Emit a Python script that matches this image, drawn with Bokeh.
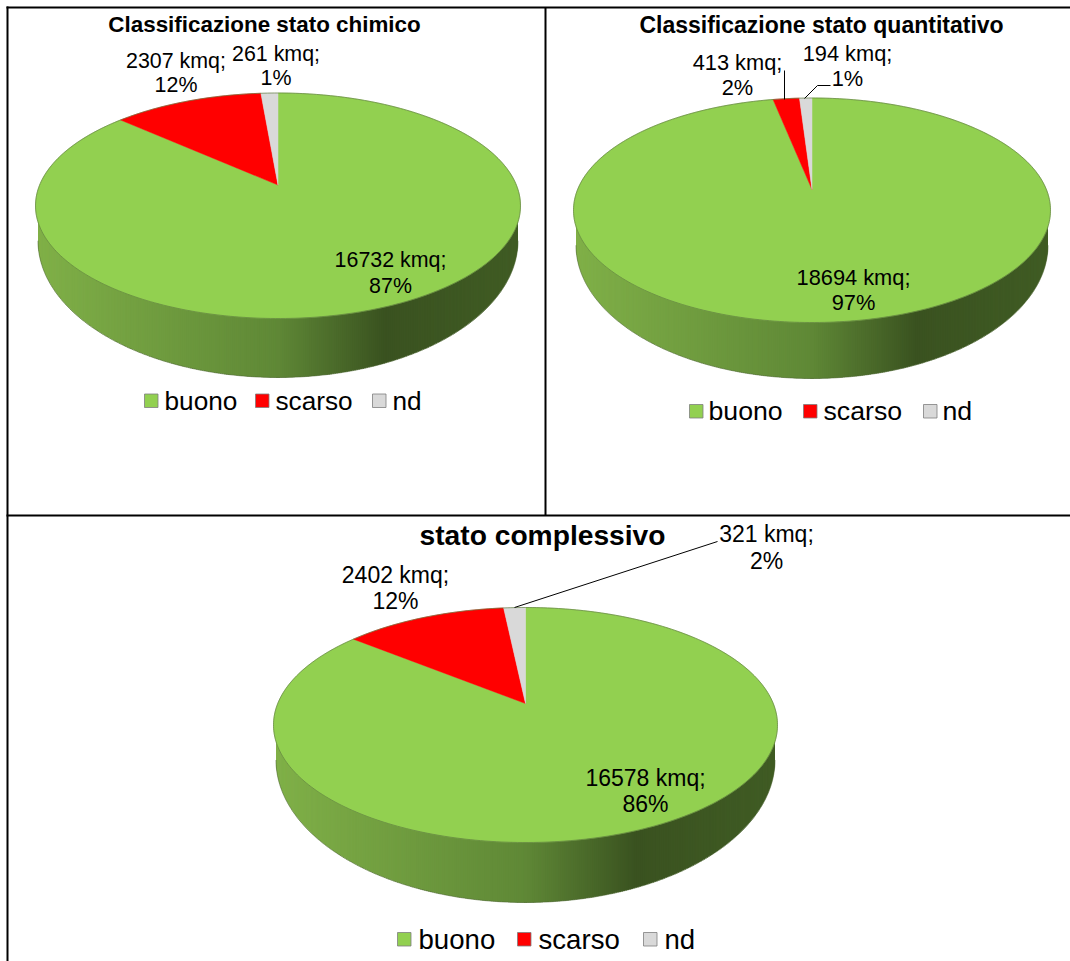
import numpy as np
from bokeh.embed import file_html
from bokeh.resources import INLINE
from bokeh.plotting import figure
from bokeh.models import Range1d
from bokeh.core.properties import value

# ---- data ----
categories = ["buono", "scarso", "nd"]
titles = ["Classificazione stato chimico", "Classificazione stato quantitativo", "stato complessivo"]
chimico_kmq = [16732, 2307, 261]
chimico_pct = [87, 12, 1]
quantitativo_kmq = [18694, 413, 194]
quantitativo_pct = [97, 2, 1]
complessivo_kmq = [16578, 2402, 321]
complessivo_pct = [86, 12, 2]

# ---- style ----
COLORS = ["#92D050", "#FF0000", "#D9D9D9"]
FONT = value("Liberation Sans")
W, H = 1070, 961

# ---- layout (reference pixels) ----
charts = [
    dict(kmq=chimico_kmq, pct=chimico_pct, title=titles[0], title_xy=(264, 24), title_size=22.4,
         cx=277.5, rx=242.5, top=92.5, bottom=318, apex=184.5, base=377, label_size=21.4, leg_size=26.2,
         labels=[(390, 259, 285), (175.5, 60, 84), (275.5, 53, 77)],
         squares=[144, 255, 372], words=[164, 275, 392], leg_y=400, leaders=[]),
    dict(kmq=quantitativo_kmq, pct=quantitativo_pct, title=titles[1], title_xy=(821, 24), title_size=23,
         cx=811.5, rx=238.5, top=97.5, bottom=322, apex=189, base=378, label_size=21.8, leg_size=26.7,
         labels=[(853, 277, 302), (737, 62, 87), (847, 53, 78)],
         squares=[689, 803, 923], words=[708, 823, 942], leg_y=410.5,
         leaders=[([784, 784], [70, 99]), ([830, 817, 804], [85, 85, 98])]),
    dict(kmq=complessivo_kmq, pct=complessivo_pct, title=titles[2], title_xy=(542, 534.5), title_size=28.2,
         cx=525, rx=252, top=607, bottom=842, apex=703, base=902, label_size=23, leg_size=27.6,
         labels=[(645, 777, 803), (395, 574, 600), (766, 533, 560)],
         squares=[397, 517, 643], words=[418, 538, 664], leg_y=938.5,
         leaders=[([717, 514], [541, 607])]),
]

p = figure(width=W, height=H, x_range=Range1d(0, W), y_range=Range1d(H, 0),
           output_backend="svg", toolbar_location=None, min_border=0,
           x_axis_location=None, y_axis_location=None, outline_line_color=None,
           background_fill_color="white", border_fill_color="white")
p.grid.visible = False


def side_color(t):
    stops = [0.0, 0.5, 0.72, 1.0]
    cols = np.array([[128, 176, 72], [95, 136, 54], [58, 82, 32], [64, 92, 36]], float)
    return "#%02x%02x%02x" % tuple(int(round(np.interp(t, stops, cols[:, i]))) for i in range(3))


def disc(c):
    """Perspective map of the pie's circle: clockwise angle from the top -> pixels."""
    k = (2 * c["apex"] - c["top"] - c["bottom"]) / (c["bottom"] - c["top"])
    a = c["bottom"] * (1 + k) - c["apex"]
    d = c["rx"] * np.sqrt(1 - k * k)

    def f(th):
        u, v = np.sin(th), -np.cos(th)
        den = 1 + k * v
        return c["cx"] + d * u / den, (a * v + c["apex"]) / den
    return f


for c in charts:
    f = disc(c)
    ecy = (c["top"] + c["bottom"]) / 2
    rb = c["rx"] - 2.5
    cyb = ecy + 35
    ryb = c["base"] - cyb

    # side wall: gradient strips painted from both rims towards the middle;
    # each strip runs under the next one so no seams show between them
    phi = np.linspace(0, np.pi, 361)
    edges = c["cx"] - rb * np.cos(phi)
    lo, hi = edges[:-1], edges[1:]
    mid = (lo + hi) / 2
    ys = cyb + ryb * np.sqrt(np.clip(1 - ((mid - c["cx"]) / rb) ** 2, 0, 1))
    cols = np.array([side_color((m - (c["cx"] - rb)) / (2 * rb)) for m in mid])
    n = len(mid) // 2
    left_half = np.arange(n)
    right_half = np.arange(len(mid) - 1, n - 1, -1)
    p.quad(left=lo[left_half], right=hi[left_half] + 2.0, top=np.full(n, ecy), bottom=ys[left_half],
           fill_color=list(cols[left_half]), line_color=None)
    p.quad(left=lo[right_half] - 2.0, right=hi[right_half], top=np.full(len(right_half), ecy),
           bottom=ys[right_half], fill_color=list(cols[right_half]), line_color=None)
    th = np.linspace(-np.pi / 2, np.pi / 2, 200)
    p.line(c["cx"] + rb * np.sin(th), cyb + ryb * np.cos(th), line_color="#4c6530", line_width=0.8, line_alpha=0.7)

    # slices, clockwise from twelve o'clock
    total = sum(c["kmq"])
    start = 0.0
    for val, col in zip(c["kmq"], COLORS):
        end = start + 2 * np.pi * val / total
        th = np.linspace(start, end, max(4, int(val / total * 360)))
        x, y = f(th)
        p.patch(np.r_[[c["cx"]], x], np.r_[[c["apex"]], y],
                fill_color=col, line_color=col, line_width=0.5)
        start = end
    th = np.linspace(0, 2 * np.pi, 360)
    x, y = f(th)
    p.line(x, y, line_color="#5f7d40", line_width=0.9, line_alpha=0.75)

    # leader lines
    for lx, ly in c["leaders"]:
        p.line(lx, ly, line_color="#000000", line_width=1)

    # data labels
    size = f'{c["label_size"]}px'
    for val, pc, (lx, y1, y2) in zip(c["kmq"], c["pct"], c["labels"]):
        p.text([lx], [y1], text=[f"{val} kmq;"], text_font=FONT, text_font_size=size,
               text_align="center", text_baseline="middle", text_color="#000000")
        p.text([lx], [y2], text=[f"{pc}%"], text_font=FONT, text_font_size=size,
               text_align="center", text_baseline="middle", text_color="#000000")

    # title
    p.text([c["title_xy"][0]], [c["title_xy"][1]], text=[c["title"]], text_font=FONT,
           text_font_size=f'{c["title_size"]}px', text_font_style="bold",
           text_align="center", text_baseline="middle", text_color="#000000")

    # legend
    ly = c["leg_y"]
    for name, col, sx, wx in zip(categories, COLORS, c["squares"], c["words"]):
        p.quad(left=[sx], right=[sx + 13.5], top=[ly - 6.5], bottom=[ly + 7],
               fill_color=col, line_color="#7f7f7f", line_width=0.8)
        p.text([wx], [ly], text=[name], text_font=FONT, text_font_size=f'{c["leg_size"]}px',
               text_align="left", text_baseline="middle", text_color="#000000")

# table rules
p.line([7, 7], [6, H], line_color="#000000", line_width=2)
p.line([6, W], [7, 7], line_color="#000000", line_width=2)
p.line([545, 545], [7, 515], line_color="#000000", line_width=2)
p.line([6, W], [515, 515], line_color="#000000", line_width=2)

open("out.html", "w").write(file_html(p, INLINE))
